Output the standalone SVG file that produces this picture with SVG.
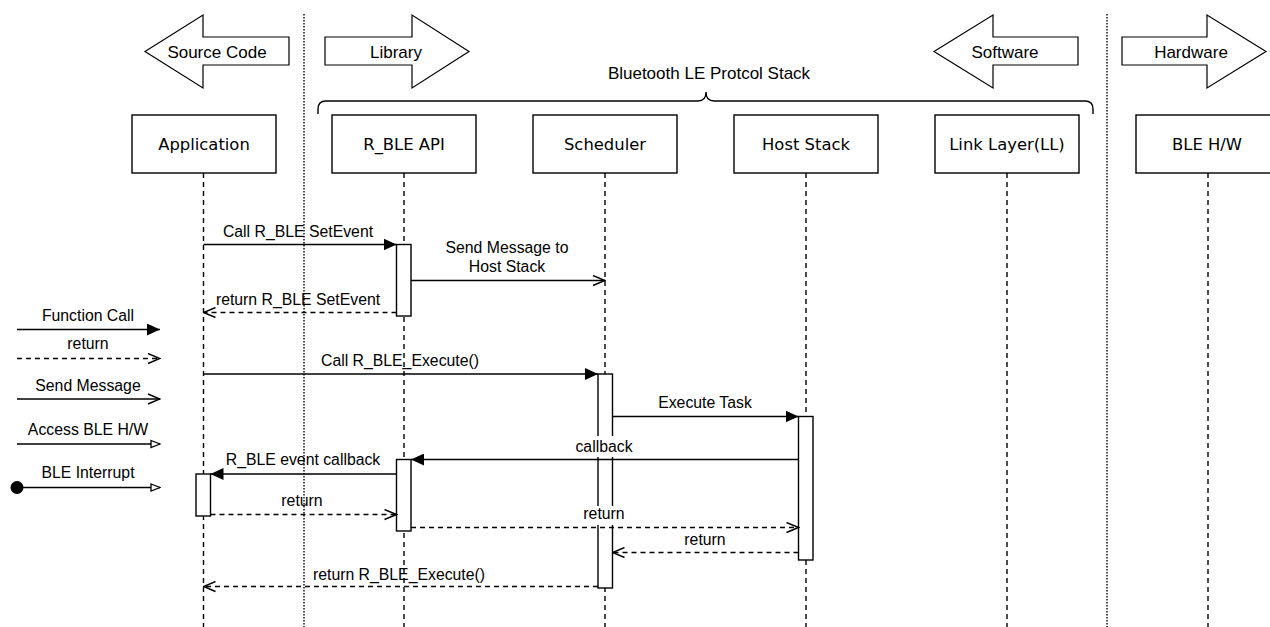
<svg xmlns="http://www.w3.org/2000/svg" width="1270" height="627" viewBox="0 0 1270 627">
<style>
.ln{stroke:#000;stroke-width:1.4;fill:none}
.dash{stroke-dasharray:5 4}
.life{stroke:#000;stroke-width:1.4;stroke-dasharray:5 4;fill:none}
.sep{stroke:#000;stroke-width:1.4;stroke-dasharray:1.4 1.6;fill:none}
.box{fill:#fff;stroke:#000;stroke-width:1.4}
.bar{fill:#fff;stroke:#000;stroke-width:1.4}
.big{fill:#fff;stroke:#000;stroke-width:1.2}
.lbg{fill:#fff;stroke:none}
.t{font-family:"Liberation Sans",Arial,sans-serif;font-size:15.8px;fill:#000;text-anchor:middle}
.ta{font-family:"Liberation Sans",Arial,sans-serif;font-size:17px;fill:#000;text-anchor:middle}
.tb{font-family:"DejaVu Sans",Verdana,sans-serif;font-size:16.4px;fill:#000;text-anchor:middle}
</style>
<defs>
<marker id="mf" viewBox="0 0 13 12" refX="13" refY="6" markerWidth="13" markerHeight="12" orient="auto" markerUnits="userSpaceOnUse"><path d="M0,0 L13,6 L0,12 Z" fill="#000"/></marker>
<marker id="mo" viewBox="0 0 14 12" refX="13" refY="6" markerWidth="14" markerHeight="12" orient="auto" markerUnits="userSpaceOnUse"><path d="M1,1 L13,6 L1,11" fill="none" stroke="#000" stroke-width="1.4"/></marker>
<marker id="mh" viewBox="0 0 11 10" refX="10" refY="5" markerWidth="11" markerHeight="10" orient="auto" markerUnits="userSpaceOnUse"><path d="M1,1.5 L10,5 L1,8.5 Z" fill="#fff" stroke="#000" stroke-width="1.3"/></marker>
</defs>
<rect width="1270" height="627" fill="#fff"/>

<g id="separators">
<line class="sep" x1="304" y1="14" x2="304" y2="627"/>
<line class="sep" x1="1107" y1="14" x2="1107" y2="627"/>
</g>

<g id="domain-arrows">
<g id="arrow-source-code"><polygon class="big" points="145,51.5 203,15 203,37 289,37 289,65 203,65 203,88"/><text class="ta" x="217" y="58">Source Code</text></g>
<g id="arrow-library"><polygon class="big" points="325,37 412,37 412,15 469,51.5 412,88 412,65 325,65"/><text class="ta" x="396" y="58">Library</text></g>
<g id="arrow-software"><polygon class="big" points="934,51.5 993,15 993,37 1078,37 1078,65 993,65 993,88"/><text class="ta" x="1005" y="58">Software</text></g>
<g id="arrow-hardware"><polygon class="big" points="1122,37 1207,37 1207,15 1266,51.5 1207,88 1207,65 1122,65"/><text class="ta" x="1191" y="58">Hardware</text></g>
</g>

<g id="stack-brace">
<path class="ln" d="M318,114 L318,109 Q318,101 326,101 L698,101 Q706,101 706,92 Q706,101 714,101 L1085,101 Q1093,101 1093,109 L1093,114"/>
<text class="ta" x="709" y="79">Bluetooth LE Protcol Stack</text>
</g>

<g id="lifelines">
<line class="life" x1="203.5" y1="173" x2="203.5" y2="627"/>
<line class="life" x1="404" y1="173" x2="404" y2="627"/>
<line class="life" x1="605" y1="173" x2="605" y2="627"/>
<line class="life" x1="806" y1="173" x2="806" y2="627"/>
<line class="life" x1="1007" y1="173" x2="1007" y2="627"/>
<line class="life" x1="1208" y1="173" x2="1208" y2="627"/>
</g>

<g id="node-application"><rect class="box" x="132" y="115" width="144" height="58"/><text class="tb" x="204" y="150">Application</text></g>
<g id="node-rble-api"><rect class="box" x="332" y="115" width="144" height="58"/><text class="tb" x="404" y="150">R_BLE API</text></g>
<g id="node-scheduler"><rect class="box" x="533" y="115" width="144" height="58"/><text class="tb" x="605" y="150">Scheduler</text></g>
<g id="node-host-stack"><rect class="box" x="734" y="115" width="144" height="58"/><text class="tb" x="806" y="150">Host Stack</text></g>
<g id="node-link-layer"><rect class="box" x="935" y="115" width="144" height="58"/><text class="tb" x="1007" y="150">Link Layer(LL)</text></g>
<g id="node-ble-hw"><rect class="box" x="1136" y="115" width="144" height="58"/><text class="tb" x="1207" y="150">BLE H/W</text></g>

<g id="activations">
<rect class="bar" x="396.5" y="244.5" width="14.5" height="71.5"/>
<rect class="bar" x="598" y="374" width="14.5" height="214"/>
<rect class="bar" x="798.5" y="416.5" width="14.5" height="143.5"/>
<rect class="bar" x="396.5" y="459.5" width="14.5" height="71.5"/>
<rect class="bar" x="196" y="474" width="14.5" height="42"/>
</g>

<g id="connectors">
<line class="ln" x1="203.5" y1="244.5" x2="396.5" y2="244.5" marker-end="url(#mf)"/>
<text class="t" x="298" y="237">Call R_BLE SetEvent</text>
<line class="ln" x1="411" y1="280.5" x2="605" y2="280.5" marker-end="url(#mo)"/>
<text class="t" x="507" y="253">Send Message to</text>
<text class="t" x="507" y="272">Host Stack</text>
<line class="ln dash" x1="396.5" y1="312.5" x2="203.5" y2="312.5" marker-end="url(#mo)"/>
<text class="t" x="298" y="305">return R_BLE SetEvent</text>
<line class="ln" x1="203.5" y1="374" x2="598" y2="374" marker-end="url(#mf)"/>
<text class="t" x="400" y="366">Call R_BLE_Execute()</text>
<line class="ln" x1="612.5" y1="416.5" x2="798.5" y2="416.5" marker-end="url(#mf)"/>
<text class="t" x="705" y="408">Execute Task</text>
<line class="ln" x1="798.5" y1="459.5" x2="411" y2="459.5" marker-end="url(#mf)"/>
<rect class="lbg" x="574" y="436" width="61" height="21"/>
<text class="t" x="604" y="452">callback</text>
<line class="ln" x1="396.5" y1="474" x2="210.5" y2="474" marker-end="url(#mf)"/>
<text class="t" x="303" y="465">R_BLE event callback</text>
<line class="ln dash" x1="210.5" y1="514.5" x2="396.5" y2="514.5" marker-end="url(#mo)"/>
<text class="t" x="302" y="506">return</text>
<line class="ln dash" x1="411" y1="527.5" x2="798.5" y2="527.5" marker-end="url(#mo)"/>
<rect class="lbg" x="582" y="506" width="45" height="19"/>
<text class="t" x="604" y="519">return</text>
<line class="ln dash" x1="798.5" y1="552.5" x2="612.5" y2="552.5" marker-end="url(#mo)"/>
<text class="t" x="705" y="545">return</text>
<line class="ln dash" x1="598" y1="586.5" x2="203.5" y2="586.5" marker-end="url(#mo)"/>
<text class="t" x="399" y="580">return R_BLE_Execute()</text>
</g>

<g id="legend">
<line class="ln" x1="17" y1="329.5" x2="160" y2="329.5" marker-end="url(#mf)"/>
<text class="t" x="88" y="321">Function Call</text>
<line class="ln dash" x1="17" y1="358.5" x2="160" y2="358.5" marker-end="url(#mo)"/>
<text class="t" x="88" y="349">return</text>
<line class="ln" x1="17" y1="399" x2="160" y2="399" marker-end="url(#mo)"/>
<text class="t" x="88" y="391">Send Message</text>
<line class="ln" x1="17" y1="444" x2="160" y2="444" marker-end="url(#mh)"/>
<text class="t" x="88" y="435">Access BLE H/W</text>
<circle cx="17" cy="487.5" r="6.5" fill="#000"/>
<line class="ln" x1="17" y1="487.5" x2="160" y2="487.5" marker-end="url(#mh)"/>
<text class="t" x="88" y="478">BLE Interrupt</text>
</g>
</svg>
